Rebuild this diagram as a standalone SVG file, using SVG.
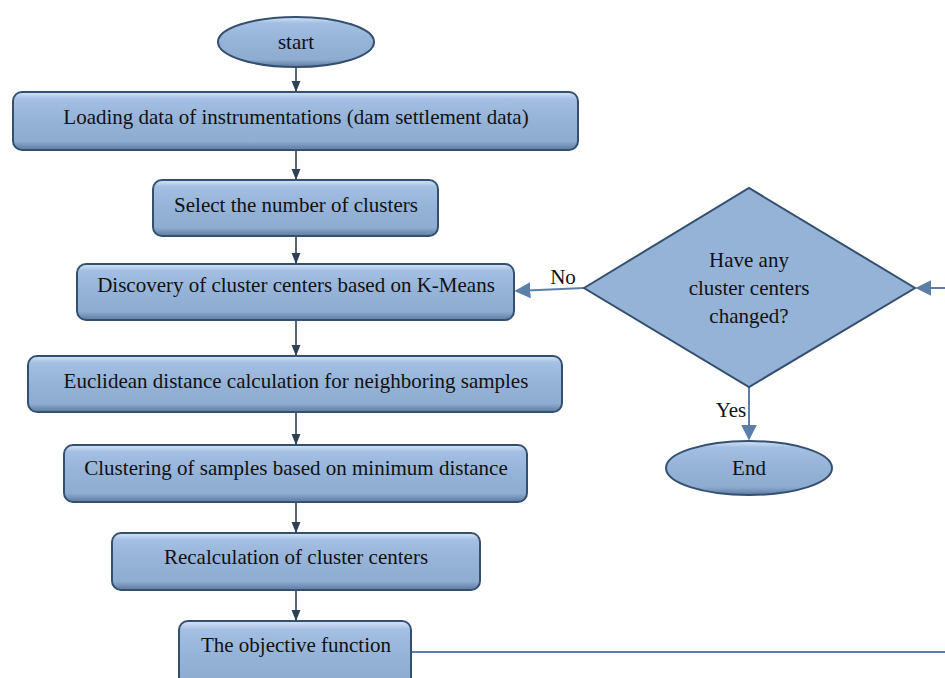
<svg xmlns="http://www.w3.org/2000/svg" width="945" height="678" viewBox="0 0 945 678">
<defs>
<linearGradient id="g" x1="0" y1="0" x2="0" y2="1">
<stop offset="0" stop-color="#d6e6f8"/>
<stop offset="0.12" stop-color="#a3bfe2"/>
<stop offset="0.5" stop-color="#95b3d7"/>
<stop offset="0.85" stop-color="#8eabd0"/>
<stop offset="1" stop-color="#5d7ba3"/>
</linearGradient>
<linearGradient id="gd" x1="0" y1="0" x2="1" y2="1">
<stop offset="0" stop-color="#c9dcf3"/>
<stop offset="0.25" stop-color="#95b3d7"/>
<stop offset="0.8" stop-color="#95b3d7"/>
<stop offset="1" stop-color="#5d7ba3"/>
</linearGradient>
<marker id="a" viewBox="0 0 10 10" refX="9" refY="5" markerWidth="7" markerHeight="7" orient="auto">
<path d="M0,1 L10,5 L0,9 z" fill="#2f3f55"/>
</marker>
<marker id="b" viewBox="0 0 10 10" refX="9" refY="5" markerWidth="8" markerHeight="8" orient="auto">
<path d="M0,0 L10,5 L0,10 z" fill="#5b7fa8"/>
</marker>
</defs>
<style>
.n{fill:url(#g);stroke:#35506f;stroke-width:2}
.t{font-family:"Liberation Serif","Times New Roman",serif;font-size:21px;fill:#111;text-anchor:middle}
.c{stroke:#2f3f55;stroke-width:1.6;fill:none}
.f{stroke:#5b7fa8;stroke-width:2;fill:none}
</style>
<rect width="945" height="678" fill="#fff"/>
<g id="connectors">
<line class="c" x1="296" y1="67" x2="296" y2="91" marker-end="url(#a)"/>
<line class="c" x1="296" y1="151" x2="296" y2="179" marker-end="url(#a)"/>
<line class="c" x1="296" y1="237" x2="296" y2="263" marker-end="url(#a)"/>
<line class="c" x1="296" y1="321" x2="296" y2="355" marker-end="url(#a)"/>
<line class="c" x1="296" y1="413" x2="296" y2="444" marker-end="url(#a)"/>
<line class="c" x1="296" y1="503" x2="296" y2="532" marker-end="url(#a)"/>
<line class="c" x1="296" y1="591" x2="296" y2="620" marker-end="url(#a)"/>
<line class="f" x1="584" y1="288" x2="516" y2="291" marker-end="url(#b)"/>
<line class="f" x1="749" y1="387" x2="749" y2="439" marker-end="url(#b)"/>
<polyline class="f" points="411,652 945,652"/>
<line class="f" x1="945" y1="288" x2="917" y2="288" marker-end="url(#b)"/>
<text class="t" x="563" y="284">No</text>
<text class="t" x="731" y="417">Yes</text>
</g>
<g id="start">
<ellipse class="n" cx="296" cy="42" rx="78" ry="25"/>
<text class="t" x="296" y="49">start</text>
</g>
<g id="load">
<rect class="n" x="13" y="92" width="565" height="58" rx="9"/>
<text class="t" x="296" y="124">Loading data of instrumentations (dam settlement data)</text>
</g>
<g id="select">
<rect class="n" x="153" y="180" width="285" height="56" rx="9"/>
<text class="t" x="296" y="212">Select the number of clusters</text>
</g>
<g id="discovery">
<rect class="n" x="77" y="264" width="437" height="56" rx="9"/>
<text class="t" x="296" y="292">Discovery of cluster centers based on K-Means</text>
</g>
<g id="euclid">
<rect class="n" x="28" y="356" width="534" height="56" rx="9"/>
<text class="t" x="296" y="388">Euclidean distance calculation for neighboring samples</text>
</g>
<g id="clustering">
<rect class="n" x="64" y="445" width="463" height="57" rx="9"/>
<text class="t" x="296" y="475">Clustering of samples based on minimum distance</text>
</g>
<g id="recalc">
<rect class="n" x="112" y="533" width="368" height="57" rx="9"/>
<text class="t" x="296" y="564">Recalculation of cluster centers</text>
</g>
<g id="objective">
<rect class="n" x="179" y="621" width="232" height="70" rx="9"/>
<text class="t" x="296" y="652">The objective function</text>
</g>
<g id="decision">
<polygon points="584,288 749,188 915,288 749,387" fill="url(#gd)" stroke="#35506f" stroke-width="2"/>
<text class="t" x="749" y="267">Have any</text>
<text class="t" x="749" y="295">cluster centers</text>
<text class="t" x="749" y="323">changed?</text>
</g>
<g id="end">
<ellipse class="n" cx="749" cy="468" rx="83" ry="27"/>
<text class="t" x="749" y="475">End</text>
</g>
</svg>
